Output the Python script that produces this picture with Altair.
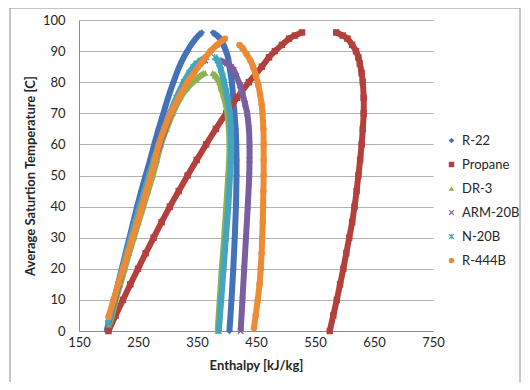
import altair as alt
import pandas as pd

series_names = ["R-22", "Propane", "DR-3", "ARM-20B", "N-20B", "R-444B"]
colors = ["#4472B8", "#B3403D", "#8DB255", "#7A5FA0", "#43A5C0", "#EE8A35"]

X_PATH = "M-1,-0.7L-0.7,-1L0,-0.3L0.7,-1L1,-0.7L0.3,0L1,0.7L0.7,1L0,0.3L-0.7,1L-1,0.7L-0.3,0Z"
STAR_PATH = X_PATH + "M-0.15,-1L0.15,-1L0.15,1L-0.15,1Z"
shapes = ["diamond", "square", "triangle-up", X_PATH, STAR_PATH, "circle"]

x_ticks = [150, 250, 350, 450, 550, 650, 750]
y_ticks = [0, 10, 20, 30, 40, 50, 60, 70, 80, 90, 100]

# R-22
r22_bub_T = [0, 5, 10, 15, 20, 25, 30, 35, 40, 45, 50, 55, 60, 65, 70, 75, 80, 85, 88, 90, 92, 94, 95, 96]
r22_bub_h = [197, 203, 209.5, 216, 222.5, 229, 235.5, 242, 248.5, 255.5, 263, 270.5, 277.5, 285, 293, 301, 310, 320, 327.5, 333.5, 340, 348, 352.5, 358]
r22_dew_T = [0, 10, 20, 30, 40, 50, 55, 60, 65, 70, 75, 80, 85, 88, 90, 92, 94, 95, 96]
r22_dew_h = [405, 408.5, 411.5, 414, 416, 417, 417, 416.5, 415.5, 413.5, 411.5, 409, 405, 402.5, 399, 395, 389, 384, 377]

# Propane
pro_bub_T = [0, 5, 10, 15, 20, 25, 30, 35, 40, 45, 50, 55, 60, 65, 70, 75, 80, 85, 88, 90, 92, 94, 95, 96]
pro_bub_h = [200, 212, 224.5, 237, 250, 263, 276.5, 290, 304, 319, 334, 349.5, 365.5, 382, 399.5, 418, 438, 460, 472, 482, 494, 506, 516, 528]
pro_dew_T = [0, 5, 10, 15, 20, 25, 30, 35, 40, 45, 50, 55, 60, 65, 70, 75, 80, 83, 86, 88, 90, 92, 94, 95, 96]
pro_dew_h = [575, 581, 587, 592.5, 598, 603, 608, 613, 617, 620.5, 623.5, 626.5, 629, 631, 632.5, 632.5, 631, 629, 626, 623.5, 619.5, 613, 605, 597, 586]

# DR-3
dr3_bub_T = [2, 5, 10, 15, 20, 25, 30, 35, 40, 45, 50, 55, 60, 65, 70, 75, 78, 81, 83]
dr3_bub_h = [201, 206, 212.5, 220, 227.5, 235, 243, 251, 259, 267, 275, 282, 289, 298.5, 309, 322, 333, 349, 364]
dr3_dew_T = [0, 10, 20, 30, 40, 50, 55, 60, 65, 70, 73, 76, 78, 80, 82, 83]
dr3_dew_h = [385, 388.5, 392, 396, 399.5, 403, 404.5, 405, 404, 401.5, 398.5, 394.5, 391, 388, 380.5, 376.5]

# ARM-20B
arm_bub_T = [2.5, 5, 10, 15, 20, 25, 30, 35, 40, 45, 50, 55, 60, 65, 70, 75, 80, 83, 85, 86, 87]
arm_bub_h = [200, 203.5, 210.5, 217.5, 224.5, 231.5, 239, 246.5, 254.5, 262.5, 270.5, 278.5, 287, 296, 306, 317.5, 331, 341, 349.5, 355, 364]
arm_dew_T = [0, 10, 20, 30, 40, 50, 55, 60, 65, 70, 73, 76, 79, 82, 84, 85, 86, 87]
arm_dew_h = [424, 427, 430, 433, 436, 438.5, 439, 439, 438, 435, 431.5, 427.5, 423, 416.5, 412, 407.5, 401, 388]

# N-20B
n20_bub_T = [2.5, 5, 10, 15, 20, 25, 30, 35, 40, 45, 50, 55, 60, 65, 70, 75, 80, 83, 85, 86, 87, 88]
n20_bub_h = [199, 202.5, 209.5, 216.5, 223.5, 230.5, 237.5, 245, 252.5, 260.5, 268.5, 276.5, 285, 294, 304, 315, 327.5, 336.5, 344, 349, 356, 366]
n20_dew_T = [0, 10, 20, 30, 40, 50, 55, 60, 65, 70, 74, 77, 80, 82, 84, 86, 87, 88]
n20_dew_h = [387, 391, 395, 399, 403, 406, 407.5, 408, 407.5, 405.5, 402.5, 399.5, 396, 393.5, 390.5, 387.5, 385, 380]

# R-444B
r444_bub_T = [4.5, 10, 15, 20, 25, 30, 35, 40, 45, 50, 55, 60, 65, 70, 75, 80, 83, 86, 88, 90, 92, 94]
r444_bub_h = [200, 208.5, 216.5, 224.5, 232.5, 240.5, 248.5, 256.5, 264, 271.5, 278.5, 285.5, 294.5, 305.5, 319, 334, 345, 356.5, 364.5, 373, 384, 397.5]
r444_dew_T = [1, 5, 10, 15, 20, 25, 30, 35, 40, 45, 50, 55, 60, 65, 70, 73, 76, 79, 82, 85, 87, 89, 91, 92]
r444_dew_h = [446.5, 449.5, 453, 456, 458, 459.5, 460.5, 461.5, 462, 462.5, 463, 463, 463, 462.5, 461, 459.5, 457, 454, 450, 445, 440.5, 434, 427, 422]

series_data = [
    (r22_bub_T, r22_bub_h, r22_dew_T, r22_dew_h),
    (pro_bub_T, pro_bub_h, pro_dew_T, pro_dew_h),
    (dr3_bub_T, dr3_bub_h, dr3_dew_T, dr3_dew_h),
    (arm_bub_T, arm_bub_h, arm_dew_T, arm_dew_h),
    (n20_bub_T, n20_bub_h, n20_dew_T, n20_dew_h),
    (r444_bub_T, r444_bub_h, r444_dew_T, r444_dew_h),
]

FONT = "Lato"
x_enc = alt.X("h:Q", scale=alt.Scale(domain=[150, 750], nice=False, zero=False),
              axis=alt.Axis(values=x_ticks, title="Enthalpy [kJ/kg]", grid=False, ticks=False,
                            labelFlush=False, labelPadding=5, titlePadding=10,
                            domainColor="#8c8c8c"))
y_enc = alt.Y("T:Q", scale=alt.Scale(domain=[0, 100], nice=False),
              axis=alt.Axis(values=y_ticks, title="Average Saturtion Temperature [C]", grid=True,
                            ticks=False, labelFlush=False, labelPadding=14, titlePadding=5,
                            domainColor="#8c8c8c", gridColor="#b3b3b3"))

layers = []
border = alt.Chart(pd.DataFrame({"a": [0]})).mark_rect(
    fillOpacity=0, stroke="#8c8c8c", strokeWidth=1
).encode(x=alt.value(-69), x2=alt.value(441), y=alt.value(-12), y2=alt.value(364))
layers.append(border)

for name, col, (bT, bh, dT, dh) in zip(series_names, colors, series_data):
    rows = []
    for t, h in zip(bT, bh):
        rows.append({"series": name, "side": "bubble", "T": t, "h": h})
    for t, h in zip(dT, dh):
        rows.append({"series": name, "side": "dew", "T": t, "h": h})
    df = pd.DataFrame(rows)
    line = alt.Chart(df).mark_line(strokeWidth=6, interpolate="catmull-rom", color=col).encode(
        x=x_enc, y=y_enc, detail="side:N", order="T:Q")
    pts = alt.Chart(df).mark_point(filled=True, size=42, opacity=1).encode(
        x=x_enc, y=y_enc,
        color=alt.Color("series:N", scale=alt.Scale(domain=series_names, range=colors), title=None),
        shape=alt.Shape("series:N", scale=alt.Scale(domain=series_names, range=shapes), title=None),
    )
    layers.append(line)
    layers.append(pts)

chart = alt.layer(*layers).properties(
    width=354, height=311,
    padding={"left": 71, "top": 12, "right": 89, "bottom": 51},
    autosize=alt.AutoSizeParams(type="none"),
).configure_view(stroke=None).configure_axis(
    labelFont=FONT, labelFontSize=13, labelColor="#262626",
    titleFont=FONT, titleFontSize=13, titleFontWeight="bold", titleColor="#262626",
).configure_legend(
    orient="none", legendX=366, legendY=114, labelFont=FONT, labelFontSize=13,
    labelColor="#262626", symbolSize=30, rowPadding=10, symbolStrokeWidth=0,
)

chart.save("out.html", embed_options={"renderer": "svg", "actions": False})
